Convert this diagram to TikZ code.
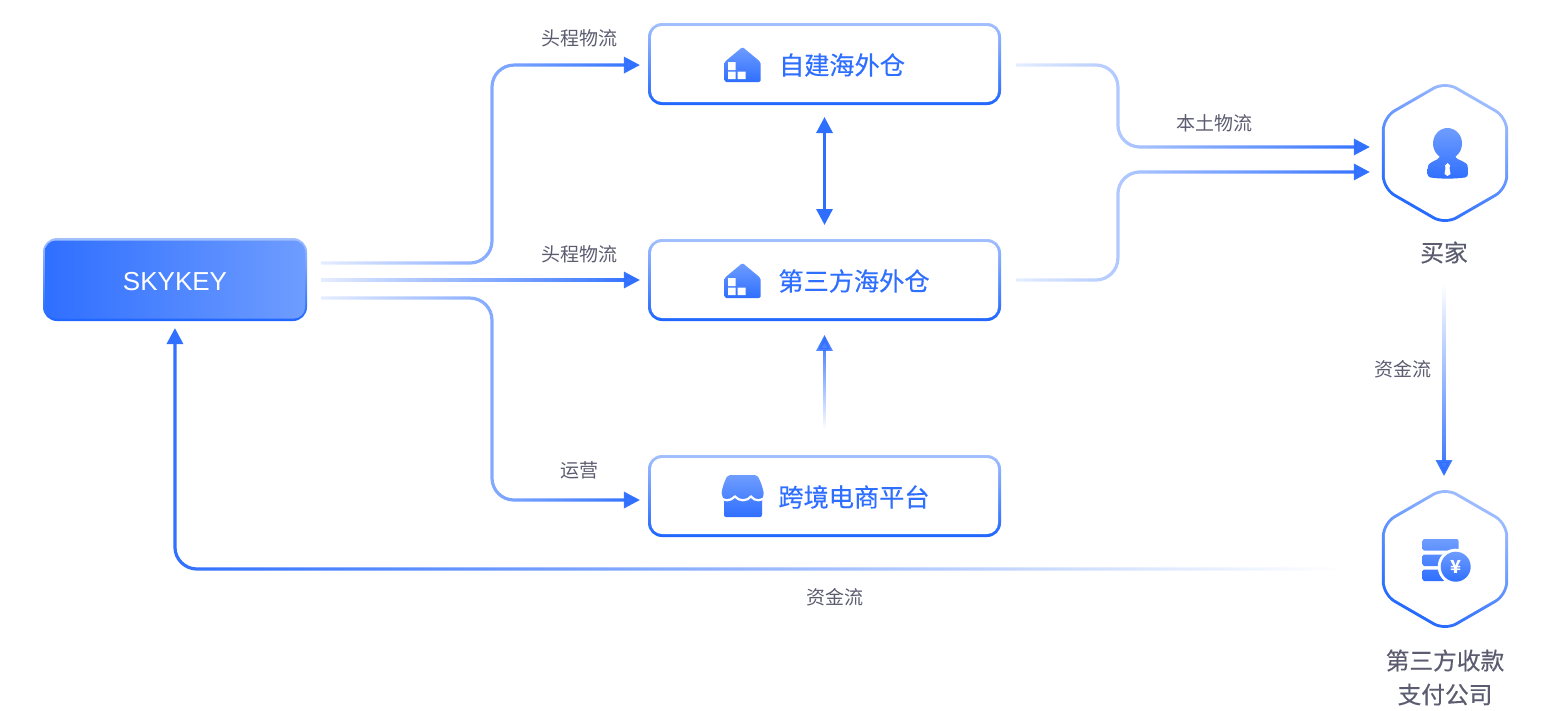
\documentclass[tikz,border=0pt]{standalone}
\usepackage{fontspec}
\setmainfont{Noto Sans CJK SC}
\setsansfont{Liberation Sans}
\newfontfamily\mediumcjk[FakeBold=0.35]{Noto Sans CJK SC}
\usetikzlibrary{arrows.meta,shapes.geometric,fadings,calc}
\definecolor{flowblue}{HTML}{2F6FFF}
\definecolor{edgelight}{HTML}{A3C0FF}
\definecolor{edgedark}{HTML}{1F66FF}
\definecolor{labelgray}{HTML}{5C5C70}
\definecolor{iconlight}{HTML}{6F9DFF}
\tikzfading[name=faderight,left color=transparent!88,right color=transparent!0]
\tikzfading[name=fadeleft,right color=transparent!100,left color=transparent!0]
\tikzfading[name=fadeup,bottom color=transparent!100,top color=transparent!0]
\tikzfading[name=fadedown,top color=transparent!100,bottom color=transparent!0]
\tikzset{
  flow/.style={line width=3.2pt,draw=flowblue,rounded corners=22pt,-{Triangle[length=16pt,width=16pt]}},
  flowlabel/.style={font=\fontsize{19}{19}\selectfont,text=labelgray,inner sep=0pt},
  boxtext/.style={font=\mediumcjk\fontsize{25.2}{25.2}\selectfont,text=flowblue,inner sep=0pt},
  hextext/.style={font=\mediumcjk\fontsize{23.7}{23.7}\selectfont,text=labelgray,inner sep=0pt},
  flowbox/.style={rectangle,minimum width=353pt,minimum height=82pt,outer sep=0pt,inner sep=0pt,
    rounded corners=14pt,top color=edgelight,bottom color=edgedark,
    path picture={\fill[white,rounded corners=11pt]
      ([xshift=3pt,yshift=3pt]path picture bounding box.south west) rectangle
      ([xshift=-3pt,yshift=-3pt]path picture bounding box.north east);}},
  hexouter/.style={regular polygon,regular polygon sides=6,shape border rotate=30,minimum size=146pt,
    inner sep=0pt,outer sep=0pt,rounded corners=14pt,top color=edgelight,bottom color=edgedark,shading angle=-30},
  hexinner/.style={regular polygon,regular polygon sides=6,shape border rotate=30,minimum size=139pt,
    inner sep=0pt,outer sep=0pt,rounded corners=12pt,fill=white},
  iconshade/.style={top color=iconlight,bottom color=flowblue},
  warehouse/.pic={
    \shade[iconshade,rounded corners=1.5pt] (0,17) -- (-18,17) -- (-18,-3) -- (0,-18) -- (18,-3) -- (18,17) -- cycle;
    \fill[white] (-14.5,-3) rectangle (-7,5) (-14.5,6.5) rectangle (-7,14) (-5,6.5) rectangle (3,14);
  }
}
\begin{document}
\begin{tikzpicture}[x=1pt,y=-1pt]
\useasboundingbox (0,0) rectangle (1546,710);
% boxes
\node[flowbox,minimum width=264pt,minimum height=83pt,
  path picture={\shade[left color=flowblue,right color=iconlight,rounded corners=11pt]
    ([xshift=2pt,yshift=2.5pt]path picture bounding box.south west) rectangle
    ([xshift=-2pt,yshift=-2.5pt]path picture bounding box.north east);}] (skykey) at (175,279.5) {};
\node[font=\sffamily\fontsize{26}{26}\selectfont,text=white,inner sep=0pt] (skykeytext) at (175,281.5) {SKYKEY};
\node[flowbox] (selfwh) at (824.5,64) {};
\node[flowbox] (thirdwh) at (824.5,280) {};
\node[flowbox] (platform) at (824.5,496) {};
\node[boxtext] (selfwhtext) at (842,65) {自建海外仓};
\node[boxtext] (thirdwhtext) at (854,281) {第三方海外仓};
\node[boxtext] (platformtext) at (854,497) {跨境电商平台};
% hexagons
\node[hexouter] (buyer) at (1445,153) {};
\node[hexinner] (buyerinner) at (buyer) {};
\node[hexouter] (payco) at (1445,559) {};
\node[hexinner] (payinner) at (payco) {};
\node[hextext] (buyertext) at (1444,252.5) {买家};
\node[hextext] (paytext) at (1445,660.5) {第三方收款};
\node[hextext] (paytexttwo) at (1445,694.5) {支付公司};
% icons
\pic at (742.5,65) {warehouse};
\pic at (742.5,281) {warehouse};
\shade[iconshade,rounded corners=2pt] (742,475) -- (757,475) .. controls (760,480) and (763,488) .. (764,495)
  -- (762,499) -- (762,517) -- (724,517) -- (724,499) -- (721.5,495) .. controls (722,488) and (725,480) .. (728,475) -- cycle;
\draw[white,line width=2.2pt] (719,496.5) .. controls (724,501.5) and (730,501.5) .. (735,496.5)
  .. controls (739,501.5) and (747,501.5) .. (751,496.5) .. controls (755,501.5) and (761,501.5) .. (766,496.5);
\shade[iconshade,rounded corners=3pt] (1447.5,143.5) ellipse (14.5 and 15.5)
  (1440,150) -- (1455,150) -- (1455,158) .. controls (1460,160) and (1467,163) .. (1468,168) -- (1468,177)
  .. controls (1455,179) and (1440,179) .. (1427.5,177) -- (1427.5,168) .. controls (1429,163) and (1436,160) .. (1440,158) -- cycle;
\fill[white] (1447.5,163) -- (1450,165.5) -- (1449.5,168) -- (1450.5,174) -- (1447.5,176) -- (1444.5,174) -- (1445.5,168) -- (1445,165.5) -- cycle;
\shade[iconshade,rounded corners=2pt] (1422.5,539) rectangle (1458.5,550.5)
  (1422.5,554.5) rectangle (1445,566) (1422.5,569.5) rectangle (1445,581);
\fill[white] (1455.7,566.7) circle (18);
\shade[iconshade] (1455.7,566.7) circle (15);
\node[font=\bfseries\fontsize{18}{18}\selectfont,text=white,inner sep=0pt] (yen) at (1455.7,566.7) {¥};
% flows
\coordinate (trunkleft) at (492,0);
\coordinate (trunkright) at (1118,0);
\coordinate (skyone) at (321,263);
\coordinate (skytwo) at (321,280);
\coordinate (skythree) at (321,298);
\coordinate (selfend) at (640,65);
\coordinate (thirdend) at (640,280);
\coordinate (platend) at (640,500);
\coordinate (selfout) at (1016,65);
\coordinate (thirdout) at (1016,280);
\coordinate (buyerinone) at (1370,147);
\coordinate (buyerintwo) at (1370,172);
\coordinate (buyerout) at (1444,286);
\coordinate (payin) at (1444,476);
\coordinate (payout) at (1338,569);
\coordinate (skyin) at (175,328);
\coordinate (selfunder) at ([yshift=-12pt]selfwh.south);
\coordinate (thirdover) at ([yshift=14pt]thirdwh.north);
\coordinate (thirdunder) at ([yshift=-14pt]thirdwh.south);
\coordinate (platover) at ([yshift=27pt]platform.north);
\draw[flow,path fading=faderight] ([yshift=10pt]selfend) ([yshift=-10pt]skyone) (skyone) -- (skyone -| trunkleft) -- (selfend -| trunkleft) -- (selfend);
\draw[flow,path fading=faderight] ([yshift=10pt]skytwo) ([yshift=-10pt]skytwo) (skytwo) -- (thirdend);
\draw[flow,path fading=faderight] ([yshift=10pt]skythree) ([yshift=-10pt]platend) (skythree) -- (skythree -| trunkleft) -- (platend -| trunkleft) -- (platend);
\draw[flow,{Triangle[length=16pt,width=16pt]}-{Triangle[length=16pt,width=16pt]}] (selfunder) -- (thirdover);
\draw[flow,path fading=fadeup] ([xshift=10pt]platover) ([xshift=-10pt]thirdunder) (platover) -- (thirdunder);
\draw[flow,path fading=faderight] ([yshift=10pt]selfout) ([yshift=-10pt]buyerinone) (selfout) -- (selfout -| trunkright) -- (buyerinone -| trunkright) -- (buyerinone);
\draw[flow,path fading=faderight] ([yshift=10pt]buyerintwo) ([yshift=-10pt]thirdout) (thirdout) -- (thirdout -| trunkright) -- (buyerintwo -| trunkright) -- (buyerintwo);
\draw[flow,path fading=fadedown] ([xshift=10pt]buyerout) ([xshift=-10pt]payin) (buyerout) -- (payin);
\draw[flow,path fading=fadeleft] ([xshift=-10pt]skyin) ([yshift=-10pt]payout) (payout) -- (skyin |- payout) -- (skyin);
% labels
\node[flowlabel] (headone) at (579,38.5) {头程物流};
\node[flowlabel] (headtwo) at (579,254.5) {头程物流};
\node[flowlabel] (ops) at (579,470.5) {运营};
\node[flowlabel] (localflow) at (1214,123.5) {本土物流};
\node[flowlabel] (fundsone) at (1403,369.5) {资金流};
\node[flowlabel] (fundstwo) at (835,597.5) {资金流};
\end{tikzpicture}
\end{document}
